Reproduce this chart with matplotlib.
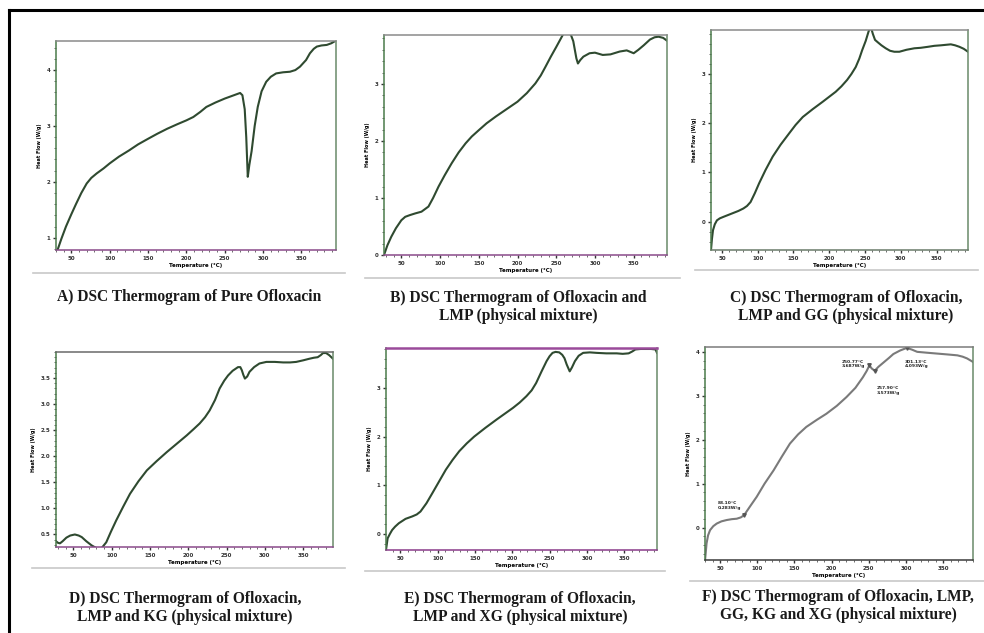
import matplotlib
matplotlib.use("Agg")
import matplotlib.pyplot as plt
from matplotlib.ticker import MultipleLocator
from matplotlib.lines import Line2D

W, H = 984, 633

# ---------------- data ----------------
xticks = [50, 100, 150, 200, 250, 300, 350]

a_temp = [32, 37, 43, 50, 56, 63, 70, 76, 83, 92, 100, 112, 125, 137, 150, 162, 175, 188, 200, 209, 218, 226, 238, 250, 262, 270, 273, 276, 278, 280, 282, 285, 289, 293, 298, 304, 310, 317, 326, 335, 342, 348, 356, 361, 366, 370, 376, 383, 389, 394]
a_flow = [0.78, 0.98, 1.2, 1.42, 1.6, 1.8, 1.97, 2.07, 2.15, 2.24, 2.33, 2.45, 2.56, 2.67, 2.77, 2.86, 2.95, 3.03, 3.1, 3.16, 3.25, 3.34, 3.42, 3.49, 3.55, 3.59, 3.55, 3.3, 2.8, 2.09, 2.3, 2.55, 3.0, 3.34, 3.62, 3.79, 3.88, 3.94, 3.96, 3.97, 4.0, 4.06, 4.18, 4.3, 4.38, 4.42, 4.44, 4.45, 4.48, 4.52]

b_temp = [27.6, 32, 37, 43, 50, 55, 61, 68, 76, 85, 91, 98, 106, 115, 124, 133, 141, 150, 160, 172, 186, 200, 212, 223, 230, 236, 243, 250, 256, 262, 269, 272, 274, 276, 278, 281, 285, 293, 300, 310, 320, 332, 341, 350, 356, 363, 371, 377, 382, 388, 393]
b_flow = [0.0, 0.17, 0.32, 0.47, 0.61, 0.67, 0.70, 0.73, 0.76, 0.85, 1.0, 1.2, 1.4, 1.61, 1.8, 1.96, 2.08, 2.19, 2.31, 2.43, 2.56, 2.69, 2.84, 3.01, 3.15, 3.30, 3.48, 3.65, 3.80, 3.95, 3.86, 3.75, 3.6, 3.45, 3.36, 3.42, 3.48, 3.54, 3.55, 3.51, 3.52, 3.57, 3.59, 3.54, 3.6, 3.68, 3.78, 3.82, 3.83, 3.81, 3.76]

c_temp = [34.7, 36, 37.5, 40, 43, 47, 52, 59, 66, 73, 80, 85, 90, 96, 102, 111, 121, 132, 144, 153, 163, 177, 191, 200, 209, 217, 225, 231, 237, 242, 246, 251, 255, 258, 261, 264, 268, 273, 279, 285, 291, 298, 308, 319, 328, 338, 347, 356, 363, 370, 376, 382, 388, 394]
c_flow = [-0.57, -0.35, -0.17, -0.05, 0.03, 0.07, 0.10, 0.14, 0.18, 0.22, 0.27, 0.32, 0.40, 0.58, 0.78, 1.05, 1.32, 1.56, 1.79, 1.96, 2.12, 2.28, 2.43, 2.53, 2.63, 2.74, 2.87, 2.99, 3.13, 3.3, 3.47, 3.66, 3.85, 3.95, 3.8, 3.68, 3.63, 3.57, 3.51, 3.46, 3.44, 3.44, 3.48, 3.51, 3.52, 3.54, 3.56, 3.57, 3.58, 3.59, 3.57, 3.54, 3.5, 3.44]

d_temp = [27.4, 30, 32.6, 36, 41, 46, 52, 57, 61, 67, 74, 80, 87, 93, 99, 106, 115, 124, 135, 146, 159, 172, 185, 198, 207, 215, 222, 228, 235, 241, 247, 252, 258, 265, 268, 270, 272, 274, 277, 280, 286, 293, 302, 313, 324, 333, 341, 350, 358, 364, 369, 373, 376, 380, 384, 389]
d_flow = [0.37, 0.34, 0.33, 0.37, 0.44, 0.48, 0.50, 0.48, 0.45, 0.37, 0.29, 0.24, 0.24, 0.35, 0.55, 0.77, 1.03, 1.28, 1.52, 1.73, 1.91, 2.08, 2.24, 2.40, 2.52, 2.63, 2.75, 2.88, 3.08, 3.30, 3.45, 3.55, 3.64, 3.71, 3.71, 3.65, 3.56, 3.49, 3.53, 3.62, 3.71, 3.78, 3.81, 3.81, 3.80, 3.80, 3.81, 3.84, 3.87, 3.89, 3.90, 3.94, 3.98, 3.98, 3.94, 3.87]

e_temp = [30.8, 33, 36, 39, 43, 48, 57, 66, 72, 77, 85, 93, 102, 111, 120, 129, 139, 149, 164, 179, 190, 201, 210, 219, 226, 232, 239, 246, 250, 254, 258, 263, 267, 270, 273, 277, 280, 284, 289, 295, 304, 313, 326, 340, 348, 356, 361, 365, 372, 380, 386, 392, 394]
e_flow = [-0.33, -0.09, 0.0, 0.08, 0.15, 0.22, 0.31, 0.36, 0.40, 0.46, 0.63, 0.84, 1.08, 1.32, 1.52, 1.70, 1.86, 2.00, 2.18, 2.35, 2.47, 2.59, 2.70, 2.83, 2.95, 3.10, 3.33, 3.55, 3.65, 3.72, 3.74, 3.73, 3.68, 3.61, 3.48, 3.34, 3.42, 3.55, 3.66, 3.72, 3.73, 3.72, 3.71, 3.71, 3.70, 3.71, 3.75, 3.79, 3.80, 3.80, 3.80, 3.79, 3.72]

f_temp = [30, 32, 34, 36.7, 41, 45.7, 52, 59, 66, 72.5, 78, 82.4, 90, 99.4, 110, 122, 133, 144, 155, 166, 180, 193, 207, 220, 232, 242, 247, 250.8, 254, 257.9, 263, 270, 277, 283, 292, 301.1, 308, 315, 328, 342, 356, 369, 376, 382, 386, 390]
f_flow = [-0.74, -0.36, -0.18, -0.06, 0.03, 0.09, 0.14, 0.17, 0.19, 0.20, 0.23, 0.28, 0.47, 0.70, 1.0, 1.30, 1.61, 1.91, 2.12, 2.29, 2.45, 2.59, 2.77, 2.97, 3.18, 3.42, 3.56, 3.69, 3.62, 3.57, 3.66, 3.76, 3.86, 3.95, 4.03, 4.09, 4.05, 4.00, 3.98, 3.96, 3.94, 3.92, 3.89, 3.85, 3.81, 3.77]

f_marks_t = [82.4, 250.8, 257.9, 301.1]
f_marks_v = [0.28, 3.69, 3.57, 4.09]
f_labels = ["88.10°C\n0.283W/g", "250.77°C\n3.687W/g", "257.90°C\n3.573W/g", "301.13°C\n4.093W/g"]
f_label_pos = [(47, 0.50), (214, 3.72), (261, 3.12), (298, 3.72)]

panels = [
    dict(t=a_temp, v=a_flow, box=(56, 41, 336, 250), xlim=(30, 395), ylim=(0.78, 4.52),
         yticks=[1, 2, 3, 4], ylab=["1", "2", "3", "4"], color="#2f4a30", bottom="#8a4a8a", top="#8a8a8a",
         cap="A) DSC Thermogram of Pure Ofloxacin", capxy=(189, 297), frame=(33, 345, 273)),
    dict(t=b_temp, v=b_flow, box=(384, 35, 667, 255), xlim=(27.6, 393), ylim=(0, 3.86),
         yticks=[0, 1, 2, 3], ylab=["0", "1", "2", "3"], color="#2f4a30", bottom="#8a4a8a", top="#8a8a8a",
         cap="B) DSC Thermogram of Ofloxacin and\nLMP (physical mixture)", capxy=(518, 307), frame=(365, 680, 278)),
    dict(t=c_temp, v=c_flow, box=(711, 30, 968, 250), xlim=(34.7, 394), ylim=(-0.57, 3.88),
         yticks=[0, 1, 2, 3], ylab=["0", "1", "2", "3"], color="#2f4a30", bottom="#6a7a6a", top="#8a8a8a",
         cap="C) DSC Thermogram of Ofloxacin,\nLMP and GG (physical mixture)", capxy=(846, 307), frame=(695, 978, 270)),
    dict(t=d_temp, v=d_flow, box=(56, 352, 333, 547), xlim=(27.4, 389), ylim=(0.26, 4.0),
         yticks=[0.5, 1.0, 1.5, 2.0, 2.5, 3.0, 3.5], ylab=["0.5", "1.0", "1.5", "2.0", "2.5", "3.0", "3.5"],
         color="#2f4a30", bottom="#8a4a8a", top="#6a6a6a",
         cap="D) DSC Thermogram of Ofloxacin,\nLMP and KG (physical mixture)", capxy=(185, 608), frame=(32, 345, 568)),
    dict(t=e_temp, v=e_flow, box=(386, 348, 657, 550), xlim=(30.8, 394), ylim=(-0.33, 3.82),
         yticks=[0, 1, 2, 3], ylab=["0", "1", "2", "3"], color="#2f4a30", bottom="#8a3a8a", top="#9a4a9a",
         cap="E) DSC Thermogram of Ofloxacin,\nLMP and XG (physical mixture)", capxy=(520, 608), frame=(365, 665, 571)),
    dict(t=f_temp, v=f_flow, box=(705, 347, 973, 560), xlim=(29.9, 390), ylim=(-0.74, 4.11),
         yticks=[0, 1, 2, 3, 4], ylab=["0", "1", "2", "3", "4"], color="#7a7a7a", bottom="#3a3a3a", top="#7a7a7a",
         cap="F) DSC Thermogram of Ofloxacin, LMP,\nGG, KG and XG (physical mixture)", capxy=(838, 606), frame=(690, 984, 581)),
]

fig = plt.figure(figsize=(W / 100, H / 100), dpi=100)
fig.patch.set_facecolor("white")

def fx(x):
    return x / W

def fy(y):
    return 1 - y / H

# outer frame
fig.add_artist(Line2D([fx(9), fx(9)], [fy(10), 0], color="black", lw=2.2))
fig.add_artist(Line2D([fx(9), 1], [fy(10), fy(10)], color="black", lw=2.2))

for i, p in enumerate(panels):
    x0, y0, x1, y1 = p["box"]
    ax = fig.add_axes([fx(x0), fy(y1), (x1 - x0) / W, (y1 - y0) / H])
    ax.plot(p["t"], p["v"], color=p["color"], lw=1.5, solid_joinstyle="round")
    ax.set_xlim(*p["xlim"])
    ax.set_ylim(*p["ylim"])
    ax.set_xticks(xticks)
    ax.set_xticklabels([str(t) for t in xticks], fontsize=4, fontweight="bold")
    ax.set_yticks(p["yticks"])
    ax.set_yticklabels(p["ylab"], fontsize=4, fontweight="bold")
    ax.xaxis.set_minor_locator(MultipleLocator(10))
    ax.yaxis.set_minor_locator(MultipleLocator((p["yticks"][1] - p["yticks"][0]) / 5))
    ax.tick_params(which="major", length=2.5, width=1.0, pad=1.5, colors="#333333")
    ax.tick_params(which="minor", length=1.5, width=0.6, colors="#555555")
    ax.spines["left"].set_color("#4a7a4a")
    ax.spines["right"].set_color("#6a8a6a")
    ax.spines["bottom"].set_color(p["bottom"])
    ax.spines["top"].set_color(p["top"])
    for s in ax.spines.values():
        s.set_linewidth(1.1)
    if i == 4:
        ax.spines["top"].set_linewidth(1.8)
    ax.set_xlabel("Temperature (°C)", fontsize=4, fontweight="bold", labelpad=2)
    ax.set_ylabel("Heat Flow (W/g)", fontsize=3.5, fontweight="bold", labelpad=3)
    if i == 5:
        ax.plot(f_marks_t, f_marks_v, linestyle="none", marker="v", ms=2.5, color="#555555")
        for (tx, ty), lab in zip(f_label_pos, f_labels):
            ax.text(tx, ty, lab, fontsize=3.2, fontweight="bold", color="#222222", va="center", ha="left")
    # panel image frame bottom line
    fl, fr, fb = p["frame"]
    fig.add_artist(Line2D([fx(fl), fx(fr)], [fy(fb), fy(fb)], color="#c8c8c8", lw=1.2))
    # caption
    cx, cy = p["capxy"]
    fig.text(fx(cx), fy(cy), p["cap"], ha="center", va="center", fontsize=11.2,
             fontweight="bold", family="Liberation Serif", linespacing=1.2, color="#1a1a1a")

fig.savefig("out.png", dpi=100, facecolor="white")
